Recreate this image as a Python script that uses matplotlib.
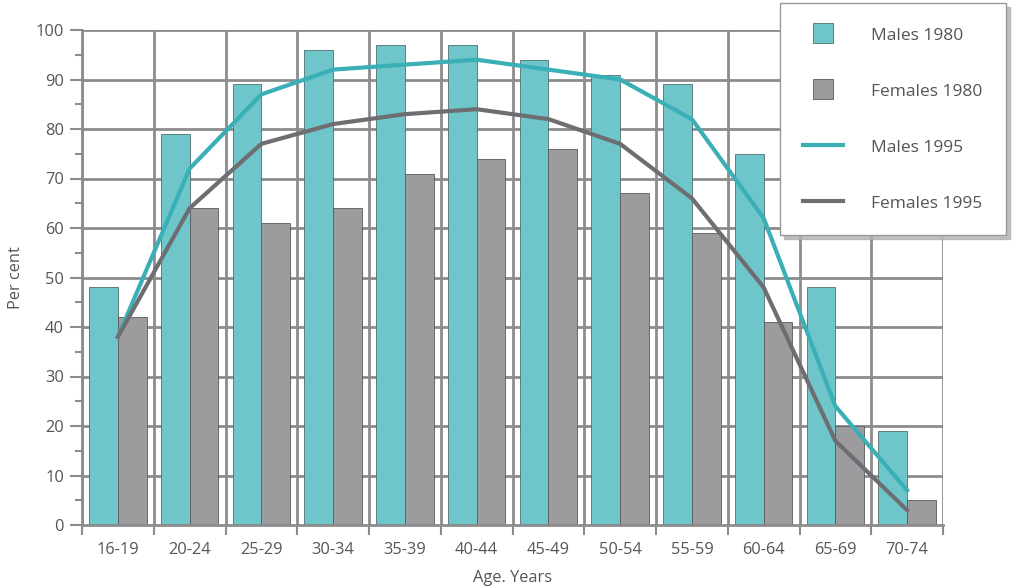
import matplotlib.pyplot as plt
import numpy as np
from matplotlib.lines import Line2D

plt.rcParams['font.family'] = ['Open Sans', 'DejaVu Sans']

ages = ['16-19', '20-24', '25-29', '30-34', '35-39', '40-44',
        '45-49', '50-54', '55-59', '60-64', '65-69', '70-74']
males_1980 = [48, 79, 89, 96, 97, 97, 94, 91, 89, 75, 48, 19]
females_1980 = [42, 64, 61, 64, 71, 74, 76, 67, 59, 41, 20, 5]
males_1995 = [38, 72, 87, 92, 93, 94, 92, 90, 82, 62, 24, 7]
females_1995 = [38, 64, 77, 81, 83, 84, 82, 77, 66, 48, 17, 3]

teal_bar = '#6ec6ca'
grey_bar = '#9c9c9f'
teal_line = '#3aafb6'
grey_line = '#6e6e72'
grid_c = '#8c8c8c'
text_c = '#555555'

fig = plt.figure(figsize=(10.13, 5.88), dpi=100)
ax = fig.add_axes([82/1013, 63/588, 861/1013, 495/588])

x = np.arange(len(ages))
w = 0.40
ax.bar(x - w/2, males_1980, width=w, color=teal_bar, edgecolor='#4f6f70', linewidth=0.6, zorder=2)
ax.bar(x + w/2, females_1980, width=w, color=grey_bar, edgecolor='#5a5a5a', linewidth=0.6, zorder=2)
ax.plot(x, males_1995, color=teal_line, lw=3, zorder=3)
ax.plot(x, females_1995, color=grey_line, lw=3, zorder=3)

ax.set_xlim(-0.5, len(ages) - 0.5)
ax.set_ylim(0, 100)

# grid
for yy in range(10, 101, 10):
    ax.axhline(yy, color=grid_c, lw=2, zorder=1)
for xx in np.arange(-0.5, len(ages), 1.0):
    ax.axvline(xx, color=grid_c, lw=2, zorder=1)

ax.set_xticks(x)
ax.set_xticklabels(ages)
ax.set_xticks(np.arange(-0.5, len(ages), 1.0), minor=True)
ax.tick_params(axis='x', which='major', length=0, pad=12, labelsize=11.8, labelcolor=text_c)
ax.tick_params(axis='x', which='minor', length=7, width=1.5, color=grid_c)
ax.set_yticks(range(0, 101, 10))
ax.set_yticks(range(5, 100, 10), minor=True)
ax.tick_params(axis='y', which='major', length=9, width=1.5, color=grid_c, labelsize=11.8, labelcolor=text_c, pad=4)
ax.tick_params(axis='y', which='minor', length=5, width=1.5, color=grid_c)

for s in ['top', 'right']:
    ax.spines[s].set_visible(False)
for s in ['left', 'bottom']:
    ax.spines[s].set_color(grid_c)
    ax.spines[s].set_linewidth(2)

ax.set_ylabel('Per cent', fontsize=11.8, color=text_c, labelpad=8)
ax.set_xlabel('Age. Years', fontsize=11.8, color=text_c, labelpad=9)

handles = [
    Line2D([], [], ls='none', marker='s', markersize=15, markerfacecolor=teal_bar,
           markeredgecolor='#4f6f70', markeredgewidth=0.6),
    Line2D([], [], ls='none', marker='s', markersize=15, markerfacecolor=grey_bar,
           markeredgecolor='#5a5a5a', markeredgewidth=0.6),
    Line2D([], [], color=teal_line, lw=3),
    Line2D([], [], color=grey_line, lw=3),
]
labels = ['Males 1980', 'Females 1980', 'Males 1995', 'Females 1995']
leg = fig.legend(handles, labels, loc='upper right', bbox_to_anchor=(1006/1013, 1 - 3/588),
                 fontsize=12.5, labelspacing=2.2, handlelength=2.3, handleheight=1.0,
                 handletextpad=1.6, borderpad=1.35, borderaxespad=0, fancybox=False,
                 shadow={'color': '#b0b0b0', 'alpha': 0.8, 'ox': 3, 'oy': -3},
                 framealpha=1, edgecolor='#999999', labelcolor=text_c)
leg.set_zorder(10)

fig.savefig('out.png', dpi=100)
